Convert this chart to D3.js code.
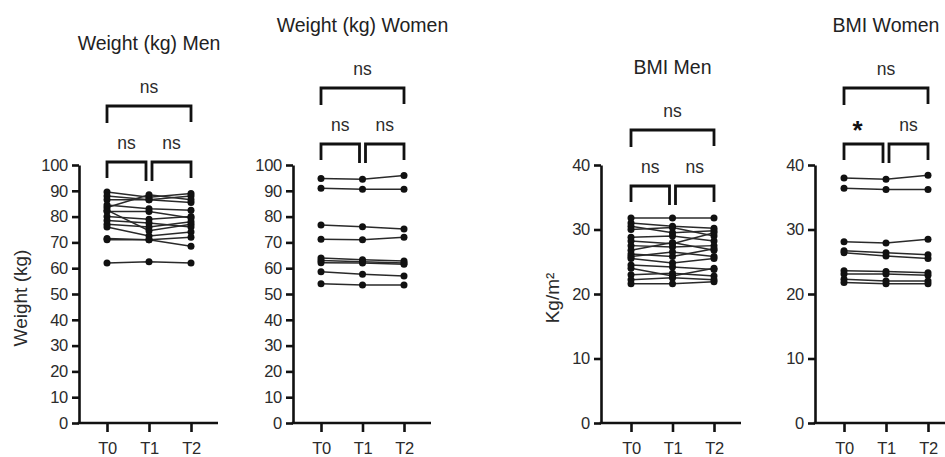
<!DOCTYPE html>
<html>
<head>
<meta charset="utf-8">
<script src="https://cdn.jsdelivr.net/npm/d3@7"></script>
<style>
  body { margin: 0; background: #fff; }
  svg { display: block; font-family: "Liberation Sans", Arial, sans-serif; }
  .axis path, .axis line { stroke: #111; stroke-width: 2.6; }
  .axis text { fill: #2b2b2b; font-size: 16.5px; letter-spacing: -0.3px; }
</style>
</head>
<body>
<div id="chart"></div>
<script>
var svgWidth = 945;
var svgHeight = 457;

// time points on the x axis
var timepoints = ["T0", "T1", "T2"];

// one row per subject: [T0, T1, T2]
var weightMen = [
  [89.5, 87.5, 89.0],
  [88.0, 86.5, 88.0],
  [86.5, 86.5, 85.5],
  [83.5, 88.5, 86.5],
  [84.5, 83.0, 82.5],
  [82.5, 74.5, 77.0],
  [82.0, 82.0, 79.5],
  [80.0, 79.0, 80.0],
  [78.5, 77.5, 76.0],
  [77.0, 76.0, 78.0],
  [76.0, 72.5, 74.0],
  [71.5, 71.0, 68.5],
  [71.0, 71.0, 72.0],
  [62.0, 62.5, 62.0]
];

var weightWomen = [
  [94.8, 94.5, 95.9],
  [91.0, 90.6, 90.6],
  [76.7, 76.1, 75.2],
  [71.2, 71.0, 72.0],
  [64.0, 63.3, 62.8],
  [63.0, 62.5, 62.0],
  [62.1, 62.0, 61.5],
  [58.6, 57.7, 57.0],
  [54.0, 53.5, 53.5]
];

var bmiMen = [
  [31.8, 31.8, 31.8],
  [31.0, 30.5, 30.2],
  [30.5, 29.5, 29.8],
  [30.0, 30.3, 29.0],
  [28.8, 29.0, 28.2],
  [28.2, 27.8, 29.5],
  [27.5, 27.3, 27.5],
  [26.8, 28.0, 26.8],
  [26.2, 25.8, 27.0],
  [25.8, 26.5, 25.8],
  [25.5, 24.8, 25.5],
  [24.5, 24.2, 23.8],
  [24.0, 22.8, 24.0],
  [23.0, 23.2, 22.8],
  [22.2, 22.5, 22.2],
  [21.6, 21.6, 21.9]
];

var bmiWomen = [
  [38.0, 37.8, 38.4],
  [36.4, 36.2, 36.2],
  [28.1, 27.9, 28.5],
  [26.7, 26.4, 26.1],
  [26.4, 25.9, 25.5],
  [23.6, 23.5, 23.3],
  [23.1, 23.1, 22.9],
  [22.3, 22.0, 22.0],
  [21.8, 21.6, 21.6]
];

// y tick labels
var weightTicks = [0, 10, 20, 30, 40, 50, 60, 70, 80, 90, 100];
var bmiTicks = [0, 10, 20, 30, 40];

var panelTitles = ["Weight (kg) Men", "Weight (kg) Women", "BMI Men", "BMI Women"];
var yAxisTitles = ["Weight (kg)", "", "Kg/m\u00B2", ""];

// significance: [T0 vs T1, T1 vs T2, T0 vs T2]
var sigWeightMen = ["ns", "ns", "ns"];
var sigWeightWomen = ["ns", "ns", "ns"];
var sigBmiMen = ["ns", "ns", "ns"];
var sigBmiWomen = ["*", "ns", "ns"];

// layout of each panel (pixels)
var panels = [
  { data: weightMen,   sig: sigWeightMen,   ticks: weightTicks, axisX: 79,  x0: 107, x2: 191, bracketY: 162, labelX: 20 },
  { data: weightWomen, sig: sigWeightWomen, ticks: weightTicks, axisX: 293, x0: 321, x2: 404, bracketY: 144 },
  { data: bmiMen,      sig: sigBmiMen,      ticks: bmiTicks,    axisX: 601, x0: 631, x2: 714, bracketY: 186, labelX: 552 },
  { data: bmiWomen,    sig: sigBmiWomen,    ticks: bmiTicks,    axisX: 815, x0: 844, x2: 928, bracketY: 144 }
];

var yTop = 165;
var yBottom = 423;

var svg = d3.select("#chart")
  .append("svg")
  .attr("width", svgWidth)
  .attr("height", svgHeight);

panels.forEach(function(p, i) {
  var g = svg.append("g");

  var xScale = d3.scalePoint()
    .domain(timepoints)
    .range([p.x0, p.x2]);

  var yScale = d3.scaleLinear()
    .domain([0, d3.max(p.ticks)])
    .range([yBottom, yTop]);

  // y axis
  g.append("g")
    .attr("class", "axis")
    .attr("transform", `translate(${p.axisX}, 0)`)
    .call(d3.axisLeft(yScale).tickValues(p.ticks).tickSize(7).tickSizeOuter(0).tickPadding(4));

  // x axis, line runs from the y axis past the last time point
  var xAxis = g.append("g")
    .attr("class", "axis")
    .attr("transform", `translate(0, ${yBottom})`)
    .call(d3.axisBottom(xScale).tickSize(9).tickPadding(10));
  xAxis.select(".domain").remove();
  xAxis.append("line")
    .attr("x1", p.axisX - 1.3)
    .attr("x2", p.x2 + 27)
    .attr("y1", 0)
    .attr("y2", 0);

  // y axis title
  if (yAxisTitles[i]) {
    g.append("text")
      .attr("transform", `translate(${p.labelX}, ${(yTop + yBottom) / 2 + 4}) rotate(-90)`)
      .attr("text-anchor", "middle")
      .attr("dy", "0.35em")
      .style("font-size", "19px")
      .style("fill", "#2b2b2b")
      .text(yAxisTitles[i]);
  }

  // subject lines
  var line = d3.line()
    .x((d, j) => xScale(timepoints[j]))
    .y(d => yScale(d));

  g.selectAll(".subject")
    .data(p.data)
    .enter()
    .append("path")
    .attr("class", "subject")
    .attr("d", line)
    .attr("fill", "none")
    .attr("stroke", "#2a2a2a")
    .attr("stroke-width", 1.5);

  // dots
  var dots = [];
  p.data.forEach(function(row) {
    row.forEach(function(v, j) { dots.push({ t: timepoints[j], v: v }); });
  });
  g.selectAll(".dot")
    .data(dots)
    .enter()
    .append("circle")
    .attr("cx", d => xScale(d.t))
    .attr("cy", d => yScale(d.v))
    .attr("r", 3.5)
    .attr("fill", "#111");

  // brackets
  var xa = xScale("T0"), xb = xScale("T1"), xc = xScale("T2");
  var by = p.bracketY;
  var bigY = by - 56;
  var brackets = [
    { x1: xa, x2: xb - 3, y: by, leg1: 16, leg2: 19, text: p.sig[0] },
    { x1: xb + 3, x2: xc, y: by, leg1: 19, leg2: 16, text: p.sig[1] },
    { x1: xa, x2: xc, y: bigY, leg1: 17, leg2: 16, text: p.sig[2] }
  ];

  brackets.forEach(function(b) {
    g.append("path")
      .attr("d", `M${b.x1},${b.y + b.leg1}V${b.y}H${b.x2}V${b.y + b.leg2}`)
      .attr("fill", "none")
      .attr("stroke", "#111")
      .attr("stroke-width", 2.8);

    var cx = (b.x1 + b.x2) / 2;
    if (b.text === "*") {
      g.append("text")
        .attr("x", cx - 6)
        .attr("y", b.y - 19 + 14)
        .attr("text-anchor", "middle")
        .style("font-size", "26px")
        .style("font-weight", "bold")
        .style("fill", "#111")
        .text(b.text);
    } else {
      g.append("text")
        .attr("x", cx)
        .attr("y", b.y - 19)
        .attr("dy", "0.32em")
        .attr("text-anchor", "middle")
        .style("font-size", "17.5px")
        .style("fill", "#2b2b2b")
        .text(b.text);
    }
  });

  // panel title
  g.append("text")
    .attr("x", xb)
    .attr("y", bigY - 19 - 44)
    .attr("dy", "0.35em")
    .attr("text-anchor", "middle")
    .style("font-size", "19.5px")
    .style("fill", "#222")
    .text(panelTitles[i]);
});
</script>
</body>
</html>
